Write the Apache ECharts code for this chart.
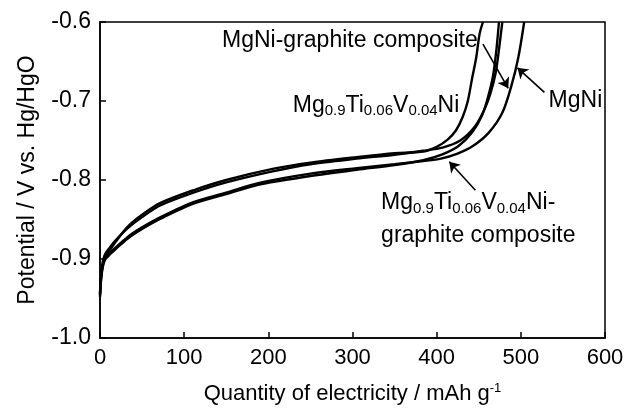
<!DOCTYPE html>
<html>
<head>
<meta charset="utf-8">
<script src="https://cdn.jsdelivr.net/npm/echarts@6/dist/echarts.min.js"></script>
<style>
html,body{margin:0;padding:0;background:#fff;}
#c{width:643px;height:418px;}
</style>
</head>
<body>
<div id="c"></div>
<script>
// ---- data (quantity of electricity mAh/g, potential V vs Hg/HgO) ----
const xTicks = [0, 100, 200, 300, 400, 500, 600];
const yTicks = [-1.0, -0.9, -0.8, -0.7, -0.6];

const mgTiVNi = [[0,-0.945],[1,-0.925],[3,-0.908],[6,-0.896],[12,-0.888],[18,-0.879],[33,-0.859],[50,-0.844],[72,-0.829],[111,-0.813],[150,-0.800],[205,-0.786],[250,-0.778],[305,-0.771],[350,-0.766],[384,-0.764],[400,-0.758],[413,-0.749],[423,-0.737],[431,-0.720],[437,-0.700],[442,-0.672],[447,-0.645],[451,-0.615],[455,-0.600]];
const mgNi = [[0,-0.943],[1,-0.922],[3,-0.905],[6,-0.894],[12,-0.885],[18,-0.877],[33,-0.861],[50,-0.847],[72,-0.832],[111,-0.816],[150,-0.803],[205,-0.789],[250,-0.780],[305,-0.773],[350,-0.768],[384,-0.763],[407,-0.759],[428,-0.750],[445,-0.733],[457,-0.710],[464,-0.690],[470,-0.665],[474,-0.635],[478,-0.600]];
const mgNiGraphite = [[0,-0.948],[1,-0.930],[3,-0.912],[6,-0.901],[12,-0.894],[18,-0.888],[33,-0.874],[50,-0.862],[72,-0.849],[111,-0.830],[150,-0.818],[188,-0.806],[250,-0.795],[305,-0.787],[350,-0.781],[384,-0.775],[406,-0.768],[426,-0.757],[442,-0.740],[454,-0.718],[461,-0.695],[467,-0.668],[471,-0.635],[474,-0.600]];
const mgTiVNiGraphite = [[0,-0.946],[1,-0.928],[3,-0.910],[6,-0.899],[12,-0.892],[18,-0.886],[33,-0.872],[50,-0.860],[72,-0.847],[111,-0.828],[150,-0.816],[188,-0.804],[250,-0.792],[305,-0.785],[350,-0.780],[384,-0.776],[405,-0.773],[424,-0.767],[443,-0.757],[462,-0.740],[478,-0.715],[489,-0.680],[497,-0.645],[504,-0.600]];

// annotation texts (anchor = left/middle, in data coords)
const annTexts = [
  {text: 'MgNi-graphite composite', at: [145, -0.624]},
  {text: 'Mg{s|0.9}Ti{s|0.06}V{s|0.04}Ni', at: [229, -0.706]},
  {text: 'MgNi', at: [533, -0.700]},
  {text: 'Mg{s|0.9}Ti{s|0.06}V{s|0.04}Ni-', at: [334, -0.829]},
  {text: 'graphite composite', at: [334, -0.870]}
];
// arrows: [from, to(tip)]
const annArrows = [
  [[455, -0.628], [485, -0.684]],
  [[528, -0.689], [496, -0.658]],
  [[446, -0.813], [415, -0.777]]
];

const FONT = '"Liberation Sans", Arial, Helvetica, sans-serif';
const chart = echarts.init(document.getElementById('c'), null, {renderer: 'canvas'});

function lineSeries(name, data) {
  return {
    name: name, type: 'line', data: data, showSymbol: false, smooth: 0.3,
    lineStyle: {color: '#000', width: 2.4}, itemStyle: {color: '#000'},
    animation: false, silent: true, clip: true
  };
}

const option = {
  backgroundColor: '#fff',
  animation: false,
  grid: {left: 100, right: 38, top: 22, bottom: 80, show: true, borderColor: '#000', borderWidth: 1.5, backgroundColor: 'transparent'},
  xAxis: {
    type: 'value', min: xTicks[0], max: xTicks[xTicks.length - 1], interval: 100,
    name: 'Quantity of electricity / mAh g{sup|-1}', nameLocation: 'middle', nameGap: 44,
    nameTextStyle: {fontFamily: FONT, fontSize: 22, color: '#000', rich: {sup: {fontSize: 13, padding: [0, 0, 11, 0], fontFamily: FONT, color: '#000'}}},
    axisLine: {show: true, lineStyle: {color: '#000', width: 1.5}},
    axisTick: {show: true, inside: true, length: 6, lineStyle: {color: '#000', width: 1.5}},
    axisLabel: {fontFamily: FONT, fontSize: 22, color: '#000', margin: 9},
    splitLine: {show: false}
  },
  yAxis: {
    type: 'value', min: yTicks[0], max: yTicks[yTicks.length - 1], interval: 0.1,
    name: 'Potential / V vs. Hg/HgO', nameLocation: 'middle', nameGap: 61, nameRotate: 90,
    nameTextStyle: {fontFamily: FONT, fontSize: 23, color: '#000'},
    axisLine: {show: true, lineStyle: {color: '#000', width: 1.5}},
    axisTick: {show: true, inside: true, length: 6, lineStyle: {color: '#000', width: 1.5}},
    axisLabel: {fontFamily: FONT, fontSize: 23, color: '#000', margin: 9, formatter: v => v.toFixed(1)},
    splitLine: {show: false}
  },
  series: [
    lineSeries('Mg0.9Ti0.06V0.04Ni', mgTiVNi),
    lineSeries('MgNi', mgNi),
    lineSeries('MgNi-graphite composite', mgNiGraphite),
    lineSeries('Mg0.9Ti0.06V0.04Ni-graphite composite', mgTiVNiGraphite),
    {
      type: 'line', data: [], silent: true, animation: false,
      markLine: {
        silent: true, animation: false,
        symbol: ['none', 'arrow'], symbolSize: [0, 10],
        label: {show: false},
        lineStyle: {color: '#000', width: 1.6, type: 'solid'},
        data: annArrows.map(a => [{coord: a[0], symbol: 'none'}, {coord: a[1], symbol: 'arrow', symbolSize: 10}])
      }
    }
  ]
};
chart.setOption(option);

const g = annTexts.map(t => {
  const p = chart.convertToPixel({gridIndex: 0}, t.at);
  return {
    type: 'text', x: p[0], y: p[1], silent: true,
    style: {
      text: t.text, fill: '#000', fontFamily: FONT, fontSize: 23,
      align: 'left', verticalAlign: 'middle',
      rich: {s: {fontSize: 15, fontFamily: FONT, fill: '#000', padding: [11, 0, 0, 0]}}
    }
  };
});
chart.setOption({graphic: g});
</script>
</body>
</html>
